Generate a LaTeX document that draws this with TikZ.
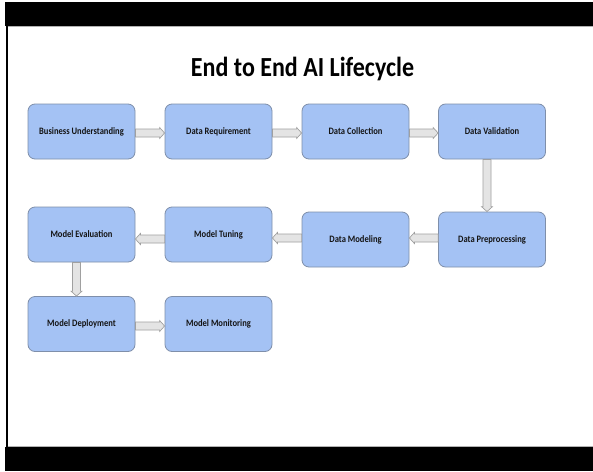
\documentclass[tikz,border=0pt]{standalone}
\usepackage{fontspec}
\setmainfont{Carlito}[FakeStretch=0.87]
\usetikzlibrary{calc}
\definecolor{boxfill}{HTML}{A4C2F4}
\definecolor{boxline}{HTML}{7F8FAA}
\definecolor{arrfill}{HTML}{E4E4E4}
\definecolor{arrline}{HTML}{A0A0A0}
\definecolor{txt}{HTML}{141414}
\tikzset{
  stepbox/.style={draw=boxline, line width=0.8pt, fill=boxfill, rounded corners=7pt,
    minimum width=107pt, minimum height=55pt, inner sep=0pt,
    text=txt, font=\fontsize{9.8}{11}\selectfont\bfseries},
  blockarr/.style={draw=arrline, line width=0.7pt, fill=arrfill, line join=miter},
  titletext/.style={text=black, font=\fontsize{27.6}{32}\selectfont\bfseries, inner sep=0pt}
}
\newcommand{\barrow}[2]{%
  \draw[blockarr]
    ($(#1)!4pt!90:(#2)$) --
    ($(#2)!5pt!(#1)!4pt!-90:(#1)$) --
    ($(#2)!5pt!(#1)!5.5pt!-90:(#1)$) --
    (#2) --
    ($(#2)!5pt!(#1)!5.5pt!90:(#1)$) --
    ($(#2)!5pt!(#1)!4pt!90:(#1)$) --
    ($(#1)!4pt!-90:(#2)$) -- cycle;}
\begin{document}
\begin{tikzpicture}[x=1pt,y=-1pt]
  \useasboundingbox (0,0) rectangle (593,471);
  \fill[white] (0,0) rectangle (593,471);
  % frame bars
  \fill[black] (5,2) rectangle (593,26);
  \fill[black] (5,447) rectangle (593,471);
  \fill[black] (6,26) rectangle (7.6,447);
  \draw[gray!60, line width=0.6pt] (7.6,26.3) -- (593,26.3);
  \draw[gray!60, line width=0.6pt] (7.6,446.6) -- (593,446.6);
  % title
  \node[titletext, anchor=base] (title) at (302.5,76) {End to End AI Lifecycle};
  % boxes
  \node[stepbox] (b1) at (81.5,131.5) {Business Understanding};
  \node[stepbox] (b2) at (218.5,131.5) {Data Requirement};
  \node[stepbox] (b3) at (355.5,131.5) {Data Collection};
  \node[stepbox] (b4) at (492,131.5) {Data Validation};
  \node[stepbox] (b5) at (492,239.5) {Data Preprocessing};
  \node[stepbox] (b6) at (355.5,239.5) {Data Modeling};
  \node[stepbox] (b7) at (218.5,234.5) {Model Tuning};
  \node[stepbox] (b8) at (81.5,234.5) {Model Evaluation};
  \node[stepbox] (b9) at (81.5,324) {Model Deployment};
  \node[stepbox] (b10) at (218.5,324) {Model Monitoring};
  % block arrows
  \barrow{[yshift=-1.5pt]b1.east}{[yshift=-1.5pt]b2.west}
  \barrow{[yshift=-1.5pt]b2.east}{[yshift=-1.5pt]b3.west}
  \barrow{[yshift=-1.5pt]b3.east}{[yshift=-1.5pt]b4.west}
  \barrow{[xshift=-5pt]b4.south}{[xshift=-5pt]b5.north}
  \barrow{[yshift=1.5pt]b5.west}{[yshift=1.5pt]b6.east}
  \barrow{[yshift=1.5pt]b6.west}{[yshift=-3.5pt]b7.east}
  \barrow{[yshift=-4.5pt]b7.west}{[yshift=-4.5pt]b8.east}
  \barrow{[xshift=-5pt]b8.south}{[xshift=-5pt]b9.north}
  \barrow{[yshift=-2pt]b9.east}{[yshift=-2pt]b10.west}
\end{tikzpicture}
\end{document}
